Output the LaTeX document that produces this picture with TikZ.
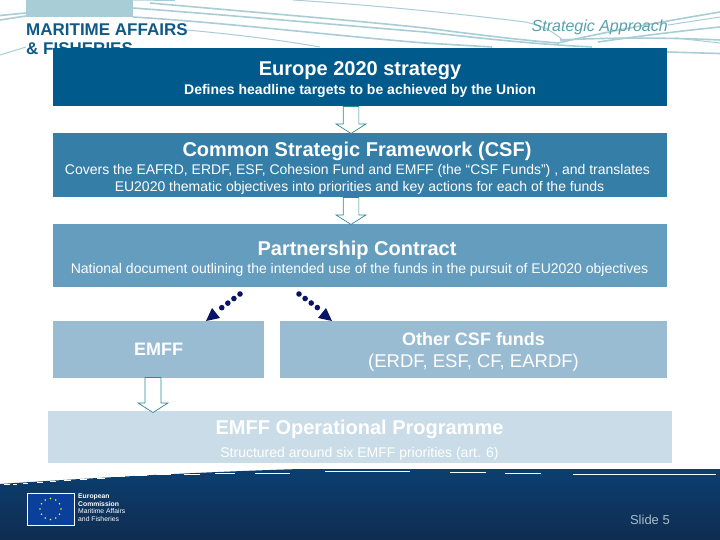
\documentclass[tikz,border=0pt]{standalone}
\usepackage{fontspec}
\setmainfont{Liberation Sans}
\usetikzlibrary{shapes.arrows,calc}
\definecolor{cA}{HTML}{005A8C}
\definecolor{cB}{HTML}{347EA8}
\definecolor{cC}{HTML}{659DBF}
\definecolor{cD}{HTML}{9ABCD3}
\definecolor{cE}{HTML}{C9DCE7}
\definecolor{wave}{HTML}{A9CDD6}
\definecolor{teal}{HTML}{2F8A96}
\definecolor{navy}{HTML}{0A1464}
\definecolor{headc}{HTML}{0F5A85}
\definecolor{slidec}{HTML}{A8BDCB}
\definecolor{footA}{HTML}{0B3F70}
\definecolor{footB}{HTML}{102C50}
\definecolor{logoc}{HTML}{0A3F9A}
\tikzset{
 box/.style={anchor=north west,inner sep=0pt,outer sep=0pt,draw=none},
 ttl/.style={text=white,font=\fontsize{20}{22}\selectfont\bfseries,inner sep=0pt},
 subt/.style={text=white,font=\fontsize{14}{16}\selectfont,inner sep=0pt},
 hollow/.style={single arrow,shape border rotate=270,draw=teal,fill=white,line width=0.7pt,inner sep=7.5pt,outer sep=0pt,single arrow head extend=7pt,single arrow tip angle=115},
 dots/.style={draw=navy,line width=5.6pt,line cap=round,dash pattern=on 0pt off 7.6pt},
 tiptri/.style={fill=navy,draw=none},
 wv/.style={draw=wave,line width=1.6pt},
 wvt/.style={draw=wave,line width=1pt}
}
\begin{document}
\begin{tikzpicture}[x=1pt,y=-1pt]
\useasboundingbox (0,0) rectangle (720,540);
\fill[white] (0,0) rectangle (720,540);
% header waves
\fill[wave] (26,0) rectangle (133,17.5);
\draw[wv] (0,15.5) -- (26,13);
\draw[wv] (0,20) -- (26,16);
\draw[wvt] (0,55) -- (26,47);
\draw[wvt] (133,0) -- (175,0.5);
\draw[wvt] (293,0) .. controls (340,3) and (430,10) .. (525,22) .. controls (545,26) and (555,33) .. (565,42);
\draw[wv] (150,3) .. controls (250,12) and (350,20) .. (425,28) .. controls (480,35) and (520,40) .. (558,43);
\draw[wv] (133,8) .. controls (240,16) and (350,26) .. (425,32) .. controls (470,37) and (530,44) .. (592,47);
\draw[wv] (133,17) .. controls (230,23) and (347,37) .. (425,43) -- (492,47);
\draw[wvt] (187,30) .. controls (240,35) and (280,40) .. (320,47);
\draw[wv] (558,43) .. controls (600,33) and (660,22) .. (720,12);
\draw[wvt] (668,25) -- (720,17);
\draw[wv] (598,42) .. controls (640,36) and (680,31) .. (720,27);
\draw[wv] (560,40) .. controls (620,37) and (680,38) .. (720,40);
\draw[wvt] (675,38) -- (720,43);
\draw[wv] (667,52) -- (720,53.5);
\node[anchor=west,inner sep=0pt,text=headc,font=\fontsize{17}{19}\selectfont\bfseries] (hd1) at (26,30) {MARITIME AFFAIRS};
\node[anchor=west,inner sep=0pt,text=headc,font=\fontsize{17}{19}\selectfont\bfseries] (hd2) at (26,49) {\& FISHERIES};
\node[anchor=east,inner sep=0pt,text=teal!80,font=\fontsize{16}{18}\selectfont\itshape] (appr) at (668,27) {Strategic Approach};
% boxes
\node[box,fill=cA,minimum width=614pt,minimum height=58pt] (b1) at (53,48) {};
\node[box,fill=cB,minimum width=614pt,minimum height=64pt] (b2) at (53,133) {};
\node[box,fill=cC,minimum width=614pt,minimum height=63pt] (b3) at (53,224) {};
\node[box,fill=cD,minimum width=211pt,minimum height=57pt] (b4) at (53,321) {};
\node[box,fill=cD,minimum width=387pt,minimum height=57pt] (b5) at (280,321) {};
\node[box,fill=cE,minimum width=624pt,minimum height=52pt] (b6) at (48,411) {};
% texts
\node[ttl] (t1) at (360,71) {Europe 2020 strategy};
\node[subt,font=\fontsize{14}{16}\selectfont\bfseries] (s1) at (360,91) {Defines headline targets to be achieved by the Union};
\node[ttl] (t2) at (357,151) {Common Strategic Framework (CSF)};
\node[subt] (s2a) at (357.5,171) {Covers the EAFRD, ERDF, ESF, Cohesion Fund and EMFF (the “CSF Funds”) , and translates};
\node[subt] (s2b) at (359.5,188) {EU2020 thematic objectives into priorities and key actions for each of the funds};
\node[ttl] (t3) at (357,250) {Partnership Contract};
\node[subt] (s3) at (359.5,270) {National document outlining the intended use of the funds in the pursuit of EU2020 objectives};
\node[subt,font=\fontsize{18}{20}\selectfont\bfseries] (t4) at (158.5,349) {EMFF};
\node[subt,font=\fontsize{18}{20}\selectfont\bfseries] (t5a) at (473.5,339.5) {Other CSF funds};
\node[subt,font=\fontsize{18.5}{20}\selectfont] (t5b) at (473.5,363) {(ERDF, ESF, CF, EARDF)};
\node[ttl] (t6) at (359.5,429) {EMFF Operational Programme};
\node[subt] (s6) at (359.5,454) {Structured around six EMFF priorities (art. 6)};
% hollow arrows
\node[hollow,minimum height=27pt,minimum width=29pt] (a1) at (351,117.5) {};
\node[hollow,minimum height=27pt,minimum width=29pt] (a2) at (351,208.5) {};
\node[hollow,minimum height=35pt,minimum width=30pt] (a3) at (153,392.5) {};
% dotted arrows
\coordinate (d1s) at (240,294);
\coordinate (d1e) at (216,312);
\coordinate (d2s) at (299,294);
\coordinate (d2e) at (322,311);
\draw[dots] (d1s) -- (d1e);
\draw[dots] (d2s) -- (d2e);
\fill[tiptri] (206,321) -- (212,308) -- (220,318) -- cycle;
\fill[tiptri] (332,321) -- (326,308) -- (318,318) -- cycle;
% footer
\path[top color=footA,bottom color=footB]
 (0,484) .. controls (90,478) and (200,472) .. (300,469) -- (720,469) -- (720,540) -- (0,540) -- cycle;
\foreach \xa/\xb/\yy in {4/10/484, 13/17/484, 23/28/483, 37/43/482, 50/56/481, 64/71/480, 80/87/479, 97/105/478, 115/125/476.5, 135/147/475.5, 157/171/474.5, 184/200/474, 215/235/473, 255/290/473, 325/410/471.5, 450/486/472.5, 505/541/473.5, 573/716/474}
 \draw[white,line width=0.8pt] (\xa,\yy) -- (\xb,\yy);
% logo
\node[box,fill=logoc,draw=white,line width=0.8pt,minimum width=47pt,minimum height=32pt] (logo) at (27,493) {};
\foreach \ang in {0,30,...,330}
 \fill[yellow!85!white] ($(50.5,509)+(\ang:10.5)$) circle (0.9);
\node[anchor=north west,inner sep=0pt,align=left,text=white,font=\fontsize{6.8}{7.7}\selectfont] (lt) at (78,493.5) {\textbf{European}\\\textbf{Commission}\\Maritime Affairs\\and Fisheries};
\node[anchor=east,inner sep=0pt,text=slidec,font=\fontsize{13}{15}\selectfont] (sl) at (670,520) {Slide 5};
\end{tikzpicture}
\end{document}
